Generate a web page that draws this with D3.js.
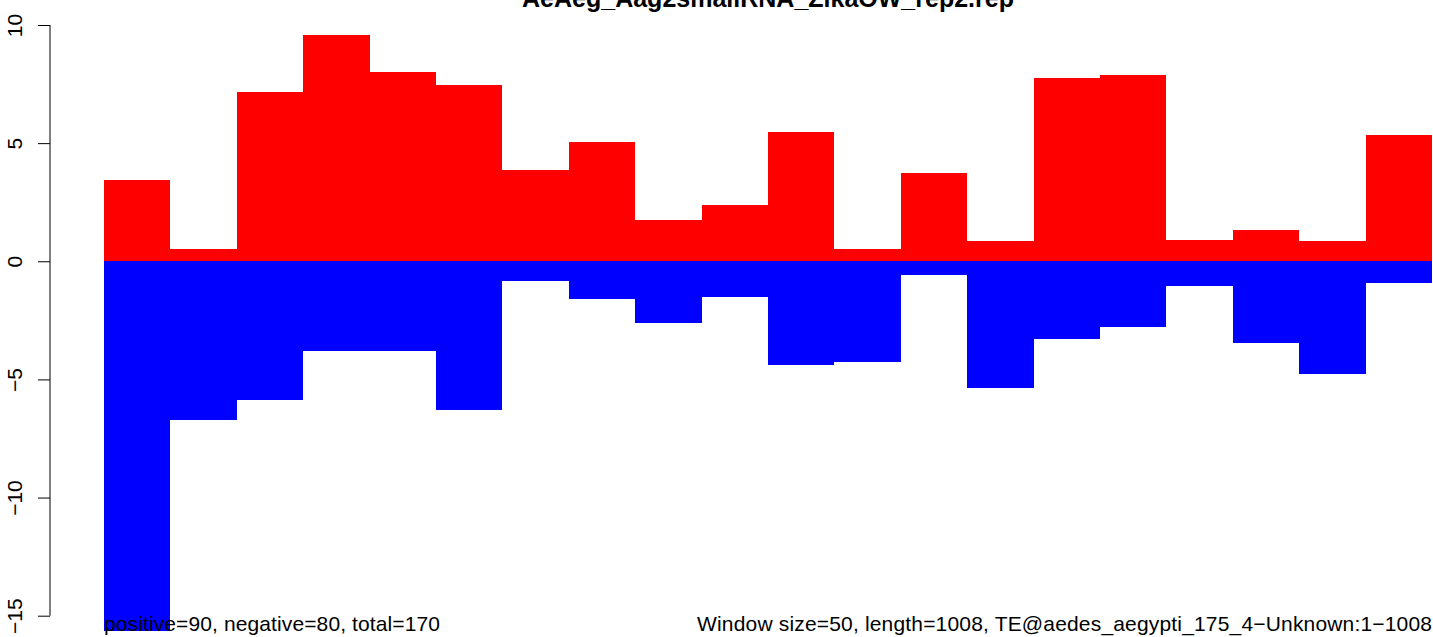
<!DOCTYPE html>
<html>
<head>
<meta charset="utf-8">
<script src="https://cdn.jsdelivr.net/npm/d3@7"></script>
<style>
  body { margin: 0; background: #fff; }
  text { font-family: "Liberation Sans", Arial, sans-serif; fill: #000; }
</style>
</head>
<body>
<div id="chart"></div>
<script>
// Data: one value per 50 bp window
const positiveValues = [3.45, 0.54, 7.18, 9.58, 7.99, 7.47, 3.88, 5.06, 1.76, 2.40,
                        5.48, 0.54, 3.75, 0.84, 7.76, 7.89, 0.92, 1.34, 0.84, 5.36];
const negativeValues = [-15.65, -6.73, -5.89, -3.81, -3.81, -6.31, -0.82, -1.58, -2.63, -1.53,
                        -4.39, -4.27, -0.60, -5.38, -3.27, -2.80, -1.03, -3.44, -4.75, -0.94];
const yTicks = [-15, -10, -5, 0, 5, 10];
const titleText = "AeAeg_Aag2smallRNA_ZikaOW_rep2.rep";
const leftNote = "positive=90, negative=80, total=170";
const rightNote = "Window size=50, length=1008, TE@aedes_aegypti_175_4\u2212Unknown:1\u22121008";

// Chart dimensions
const width = 1433;
const height = 637;

const svg = d3.select("#chart").append("svg")
  .attr("width", width)
  .attr("height", height);

// Scales
const x = d3.scaleLinear().domain([0, positiveValues.length]).range([104, 1432]);
const y = d3.scaleLinear().domain([-15, 10]).range([615.7, 25]);

// Positive bars (red)
svg.selectAll(".pos")
  .data(positiveValues)
  .enter().append("rect")
  .attr("class", "pos")
  .attr("x", (d, i) => x(i))
  .attr("width", (d, i) => x(i + 1) - x(i))
  .attr("y", d => y(d))
  .attr("height", d => y(0) - y(d))
  .attr("fill", "#ff0000")
  .attr("shape-rendering", "crispEdges");

// Negative bars (blue)
svg.selectAll(".neg")
  .data(negativeValues)
  .enter().append("rect")
  .attr("class", "neg")
  .attr("x", (d, i) => x(i))
  .attr("width", (d, i) => x(i + 1) - x(i))
  .attr("y", y(0))
  .attr("height", d => y(d) - y(0))
  .attr("fill", "#0000ff")
  .attr("shape-rendering", "crispEdges");

// Y axis, R style: ticks pointing out, labels rotated
const yAxis = d3.axisLeft(y)
  .tickValues(yTicks)
  .tickSize(12)
  .tickPadding(16)
  .tickFormat(d3.format("d"));

const gy = svg.append("g")
  .attr("transform", "translate(50,0)")
  .call(yAxis);

gy.select(".domain")
  .attr("d", "M0," + y(10) + "V" + y(-15))
  .attr("stroke", "#000");

gy.selectAll(".tick line").attr("stroke", "#000");

gy.selectAll(".tick text")
  .attr("font-size", 21)
  .attr("font-family", "Liberation Sans, Arial, sans-serif")
  .attr("fill", "#000")
  .attr("text-anchor", "middle")
  .attr("x", null)
  .attr("dy", null)
  .attr("transform", "translate(-28.5,0) rotate(-90)");

// Title (cut at the top edge, as in the source image)
svg.append("text")
  .attr("x", (x(0) + x(positiveValues.length)) / 2)
  .attr("y", 7)
  .attr("text-anchor", "middle")
  .attr("font-size", 25)
  .attr("font-weight", "bold")
  .text(titleText);

// Bottom notes
svg.append("text")
  .attr("x", x(0))
  .attr("y", 631)
  .attr("font-size", 21)
  .attr("textLength", 336)
  .attr("lengthAdjust", "spacing")
  .text(leftNote);

svg.append("text")
  .attr("x", x(positiveValues.length) - 735)
  .attr("y", 631)
  .attr("font-size", 21)
  .attr("textLength", 735)
  .attr("lengthAdjust", "spacing")
  .text(rightNote);
</script>
</body>
</html>
